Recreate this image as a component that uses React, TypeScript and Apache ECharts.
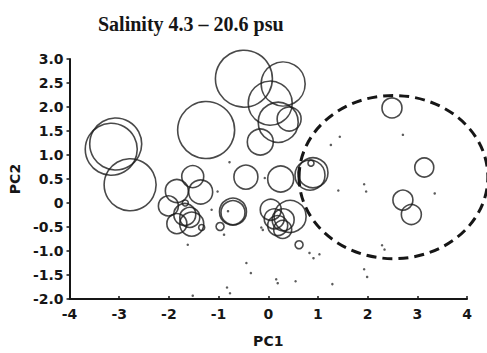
import React, { useEffect, useRef } from "react";
import * as echarts from "echarts";

// Open circles (bubbles): PC1, PC2, bubble diameter
const circlePC1 = [-3.16, -3.07, -2.78, -1.25, -0.49, 0.30, 0.04, 0.20, 0.42, -0.16, -0.45, 0.25, 0.84, 0.90, 0.86, -1.52, -1.84, -1.36, -2.01, -1.68, -1.84, -1.54, -1.58, -1.67, -1.34, -0.97, -0.71, -0.71, 0.05, 0.12, 0.19, 0.29, 0.44, 0.30, 0.62, 2.49, 3.14, 2.71, 2.88];
const circlePC2 = [1.12, 1.23, 0.38, 1.52, 2.59, 2.48, 2.08, 1.68, 1.75, 1.27, 0.54, 0.50, 0.58, 0.63, 0.83, 0.55, 0.25, 0.23, -0.06, -0.24, -0.43, -0.44, -0.30, 0.0, -0.51, -0.49, -0.18, -0.20, -0.14, -0.33, -0.47, -0.55, -0.28, -0.35, -0.87, 1.98, 0.74, 0.06, -0.24];
const circleMagnitude = [52, 52, 52, 57, 57, 44, 44, 40, 24, 26, 24, 26, 30, 30, 6, 22, 23, 24, 20, 22, 20, 24, 20, 6, 6, 8, 27, 24, 21, 20, 20, 18, 32, 22, 8, 20, 19, 20, 20];

// Tiny dots
const dotPC1 = [-1.14, -1.02, -0.89, -1.62, -0.44, -0.35, -1.52, -0.83, -0.77, -0.07, -0.14, -0.11, 0.16, 0.19, 0.55, 0.83, 0.91, 1.03, 1.29, 1.99, 1.44, 1.26, 2.71, 1.93, 1.41, 1.97, 3.35, 2.29, 2.34, 1.93, -0.81, -0.78];
const dotPC2 = [-0.14, 0.24, -0.66, -0.87, -1.25, -1.46, -1.93, -1.76, -1.88, 0.52, -0.51, -0.56, -1.59, -1.67, -1.63, -1.04, -1.15, -1.07, -1.69, -1.54, 1.38, 1.21, 1.42, 0.39, 0.26, 0.24, 0.20, -0.88, -0.97, -1.38, -0.17, 0.85];

// Dashed ellipse: centre PC1, centre PC2, half-width, half-height (data units)
const ellipse = [2.52, 0.54, 1.9, 1.7];

const yTickLabels = ["-2.0", "-1.5", "-1.0", "-0.5", "0", "0.5", "1.0", "1.5", "2.0", "2.5", "3.0"];
const xTickLabels = ["-4", "-3", "-2", "-1", "0", "1", "2", "3", "4"];

const titleText = "Salinity 4.3 \u2013 20.6 psu";

export default function App() {
  const ref = useRef<HTMLDivElement>(null);
  useEffect(() => {
    if (!ref.current) return;
    const chart = echarts.init(ref.current, undefined, { renderer: "svg" });
    const ink = "#161616";
    const labelFont = {
      fontFamily: "DejaVu Sans",
      fontWeight: "bold" as const,
      fontSize: 14,
      color: ink,
    };
    chart.setOption({
      animation: false,
      backgroundColor: "#ffffff",
      title: {
        text: titleText,
        left: 93,
        top: 9,
        textStyle: {
          fontFamily: "Liberation Serif",
          fontWeight: "bold",
          fontSize: 20,
          color: ink,
        },
      },
      grid: { left: 67, right: 20, top: 59, bottom: 48, containLabel: false },
      xAxis: {
        type: "value",
        min: -4,
        max: 4,
        interval: 1,
        name: "PC1",
        nameLocation: "middle",
        nameGap: 35,
        nameTextStyle: labelFont,
        splitLine: { show: false },
        axisLine: { show: true, onZero: false, lineStyle: { color: ink, width: 2 } },
        axisTick: { show: true, inside: true, length: 3, lineStyle: { color: ink, width: 1.5 } },
        axisLabel: {
          ...labelFont,
          margin: 8,
          formatter: (v: number) => xTickLabels[Math.round(v) + 4] ?? String(v),
        },
      },
      yAxis: {
        type: "value",
        min: -2,
        max: 3,
        interval: 0.5,
        name: "PC2",
        nameLocation: "middle",
        nameGap: 35,
        nameTextStyle: labelFont,
        splitLine: { show: false },
        axisLine: { show: true, onZero: false, lineStyle: { color: ink, width: 2 } },
        axisTick: { show: true, inside: false, length: 3, lineStyle: { color: ink, width: 1.5 } },
        axisLabel: {
          ...labelFont,
          margin: 6,
          formatter: (v: number) => yTickLabels[Math.round((v + 2) * 2)] ?? String(v),
        },
      },
      series: [
        {
          type: "scatter",
          data: circlePC1.map((x, i) => [x, circlePC2[i], circleMagnitude[i]]),
          symbol: "circle",
          symbolSize: (v: number[]) => v[2],
          itemStyle: { color: "rgba(0,0,0,0)", borderColor: "#1c1c1c", borderWidth: 1.6 },
          emphasis: { disabled: true },
          z: 3,
        },
        {
          type: "scatter",
          data: dotPC1.map((x, i) => [x, dotPC2[i]]),
          symbol: "circle",
          symbolSize: 2.5,
          itemStyle: { color: "#333" },
          emphasis: { disabled: true },
          z: 2,
        },
        {
          type: "custom",
          clip: false,
          data: [ellipse],
          renderItem: (params: any, api: any) => {
            const c = api.coord([api.value(0), api.value(1)]);
            const s = api.size([api.value(2), api.value(3)]);
            return {
              type: "ellipse",
              shape: { cx: c[0], cy: c[1], rx: s[0], ry: s[1] },
              style: { fill: "none", stroke: ink, lineWidth: 3, lineDash: [10, 6] },
            };
          },
          z: 4,
        },
      ],
    });
    return () => chart.dispose();
  }, []);
  return (
    <div
      ref={ref}
      style={{ position: "fixed", left: 0, top: 0, width: 487, height: 353 }}
    />
  );
}
